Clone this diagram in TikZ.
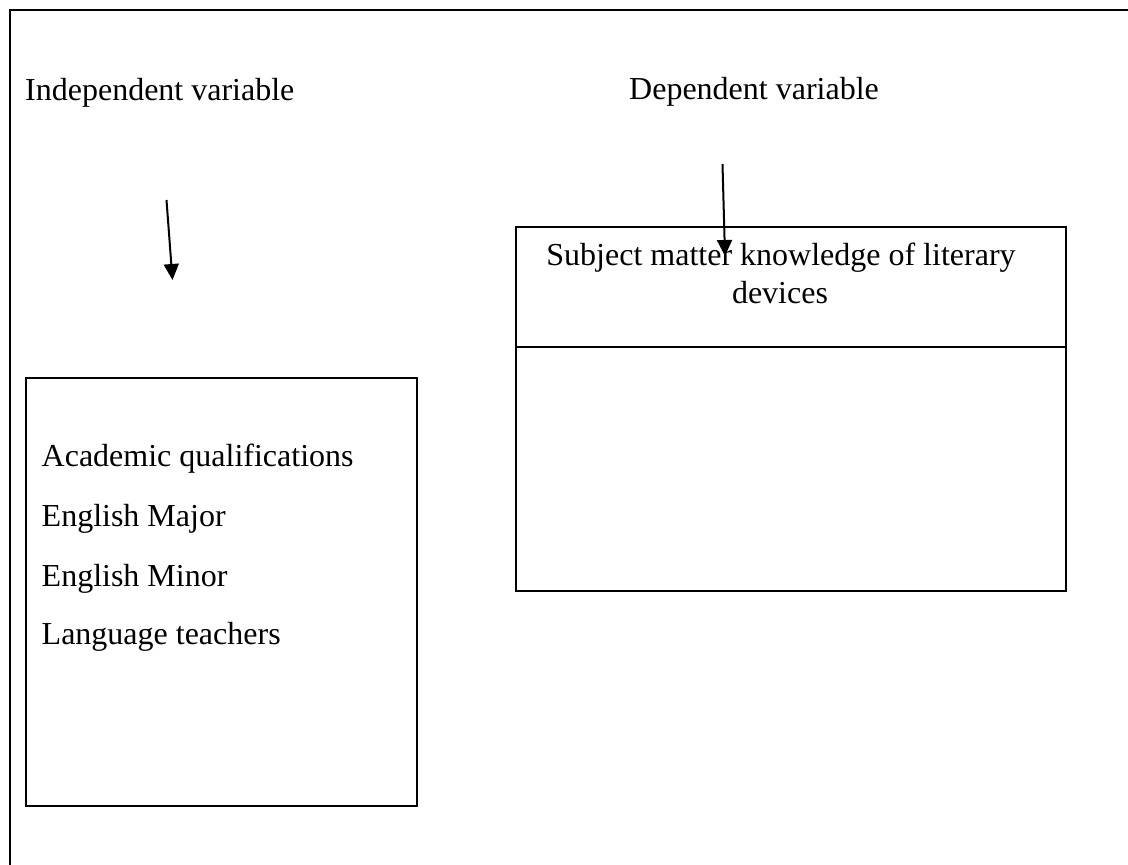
\documentclass[tikz,border=0pt]{standalone}
\usepackage{fontspec}
\setmainfont{Liberation Serif}
\usetikzlibrary{arrows.meta}
\begin{document}
\begin{tikzpicture}[x=1pt,y=-1pt,
  lbl/.style={inner sep=0pt,font=\fontsize{32}{37}\selectfont},
  boxstyle/.style={draw,line width=1.5pt,inner sep=0pt},
  arr/.style={line width=2pt,-{Triangle[width=15pt,length=16pt]}}]
\useasboundingbox (0,0) rectangle (1128,865);
% outer frame (open at right and bottom)
\draw[line width=2pt] (10,866) -- (10,10) -- (1130,10);
% headings
\node[lbl,anchor=base west] (iv) at (25,100) {Independent variable};
\node[lbl,anchor=base west] (dv) at (629,99) {Dependent variable};
% left box
\node[boxstyle,anchor=north west,minimum width=391pt,minimum height=428pt] (ivbox) at (25,377) {};
\node[lbl,anchor=base west] (t1) at (41.5,466) {Academic qualifications};
\node[lbl,anchor=base west] (t2) at (41.5,526) {English Major};
\node[lbl,anchor=base west] (t3) at (41.5,586) {English Minor};
\node[lbl,anchor=base west] (t4) at (41.5,644) {Language teachers};
% right box
\node[boxstyle,anchor=north west,minimum width=550pt,minimum height=120pt] (dvhead) at (515,226) {};
\node[boxstyle,anchor=north west,minimum width=550pt,minimum height=244pt] (dvbody) at (515,346) {};
\node[lbl,anchor=base] (d1) at (781,265) {Subject matter knowledge of literary};
\node[lbl,anchor=base] (d2) at (780,303) {devices};
% arrows
\coordinate (a1s) at (166.5,200);
\coordinate (a1e) at (172.5,280);
\coordinate (a2s) at (722.5,164);
\coordinate (a2e) at (725,256);
\draw[arr] (a1s) -- (a1e);
\draw[arr] (a2s) -- (a2e);
\end{tikzpicture}
\end{document}
